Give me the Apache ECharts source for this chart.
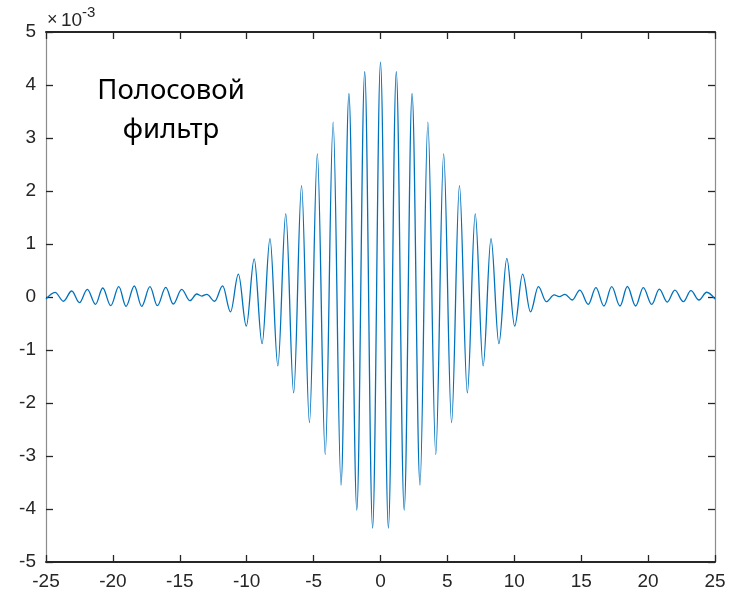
<!DOCTYPE html>
<html>
<head>
<meta charset="utf-8">
<script src="https://cdn.jsdelivr.net/npm/echarts@6/dist/echarts.min.js"></script>
<style>html,body{margin:0;padding:0;background:#fff}#c{width:741px;height:594px}</style>
</head>
<body>
<div id="c"></div>
<script>
// Local extrema of the curve (x, value in units of 1e-3)
const extremaX = [
  -25, -24.32, -23.70, -23.08, -22.50, -21.91, -21.30, -20.76, -20.16, -19.56,
  -19.02, -18.40, -17.85, -17.23, -16.68, -16.05, -15.49, -14.86, -14.24, -13.74,
  -13.36, -12.98, -12.39, -11.80, -11.21, -10.62, -10.03, -9.44, -8.85, -8.26,
  -7.67, -7.08, -6.49, -5.90, -5.31, -4.72, -4.13, -3.54, -2.95, -2.36,
  -1.77, -1.18, -0.59, 0,
  0.59, 1.18, 1.77, 2.36, 2.95, 3.54, 4.13, 4.72, 5.31, 5.90,
  6.49, 7.08, 7.67, 8.26, 8.85, 9.44, 10.03, 10.62, 11.21, 11.80,
  12.39, 12.98, 13.36, 13.79, 14.33, 14.90, 15.53, 16.10, 16.70, 17.28,
  17.90, 18.45, 19.07, 19.64, 20.27, 20.84, 21.43, 22.00, 22.63, 23.20,
  23.80, 24.38, 25
];
const extremaY = [
  -0.04, 0.088, -0.08, 0.113, -0.107, 0.145, -0.138, 0.17, -0.164, 0.195,
  -0.176, 0.208, -0.176, 0.195, -0.164, 0.18, -0.132, 0.145, -0.069, 0.057,
  0.018, 0.05, -0.08, 0.21, -0.28, 0.43, -0.55, 0.72, -0.88, 1.10,
  -1.30, 1.57, -1.81, 2.10, -2.37, 2.70, -2.97, 3.30, -3.55, 3.84,
  -4.02, 4.25, -4.36, 4.43,
  -4.36, 4.25, -4.02, 3.84, -3.55, 3.30, -2.97, 2.70, -2.37, 2.10,
  -1.81, 1.57, -1.30, 1.10, -0.88, 0.73, -0.55, 0.43, -0.28, 0.195,
  -0.088, 0.04, 0.006, 0.05, -0.057, 0.13, -0.138, 0.176, -0.17, 0.195,
  -0.17, 0.198, -0.17, 0.178, -0.138, 0.15, -0.095, 0.13, -0.088, 0.12,
  -0.057, 0.09, -0.04
];
const xTickLabels = [-25, -20, -15, -10, -5, 0, 5, 10, 15, 20, 25];
const yTickLabels = [-5, -4, -3, -2, -1, 0, 1, 2, 3, 4, 5];
const titleLines = ['Полосовой', 'фильтр'];
const exponentBase = '10';
const exponentPower = '-3';

const seriesData = extremaX.map((x, i) => [x, extremaY[i]]);

const axisDark = '#262626';
const labelFont = 'Liberation Sans, Arial, sans-serif';

function xAx(pos, showLabel) {
  return {
    type: 'value', position: pos,
    min: xTickLabels[0], max: xTickLabels[xTickLabels.length - 1], interval: 5,
    axisLine: { show: true, onZero: false, lineStyle: { color: axisDark, width: 2 } },
    axisTick: { show: true, inside: true, length: 7, lineStyle: { color: axisDark, width: 1.3 } },
    axisLabel: { show: showLabel, color: axisDark, fontSize: 19, fontFamily: labelFont, margin: 10 },
    splitLine: { show: false }
  };
}
function yAx(pos, showLabel) {
  return {
    type: 'value', position: pos,
    min: yTickLabels[0], max: yTickLabels[yTickLabels.length - 1], interval: 1,
    axisLine: { show: true, onZero: false, lineStyle: { color: '#8c8c8c', width: 1.2 } },
    axisTick: { show: true, inside: true, length: 7, lineStyle: { color: axisDark, width: 1.3 } },
    axisLabel: { show: showLabel, color: axisDark, fontSize: 19, fontFamily: labelFont, margin: 10 },
    splitLine: { show: false }
  };
}

const chart = echarts.init(document.getElementById('c'), null, { renderer: 'canvas' });
chart.setOption({
  animation: false,
  backgroundColor: '#ffffff',
  grid: { left: 46, right: 26, top: 32, bottom: 32, containLabel: false },
  xAxis: [xAx('bottom', true), xAx('top', false)],
  yAxis: [yAx('left', true), yAx('right', false)],
  series: [{
    type: 'line',
    data: seriesData,
    smooth: 0.36,
    smoothMonotone: 'x',
    showSymbol: false,
    symbol: 'none',
    clip: true,
    lineStyle: { color: '#0072BD', width: 1.3 },
    z: 1
  }],
  graphic: [
    { type: 'text', left: 47, top: 11, style: { text: '×', fontSize: 18, fontFamily: labelFont, fill: axisDark } },
    { type: 'text', left: 61, top: 11, style: { text: exponentBase, fontSize: 19, fontFamily: labelFont, fill: axisDark } },
    { type: 'text', left: 82, top: 5, style: { text: exponentPower, fontSize: 15, fontFamily: labelFont, fill: axisDark } },
    { type: 'text', x: 171, y: 91, style: { text: titleLines[0], fontSize: 27.5, fontFamily: 'Noto Sans, Open Sans, sans-serif', fill: '#000', align: 'center', verticalAlign: 'middle' } },
    { type: 'text', x: 171, y: 130, style: { text: titleLines[1], fontSize: 27.5, fontFamily: 'Noto Sans, Open Sans, sans-serif', fill: '#000', align: 'center', verticalAlign: 'middle' } }
  ]
});
</script>
</body>
</html>
